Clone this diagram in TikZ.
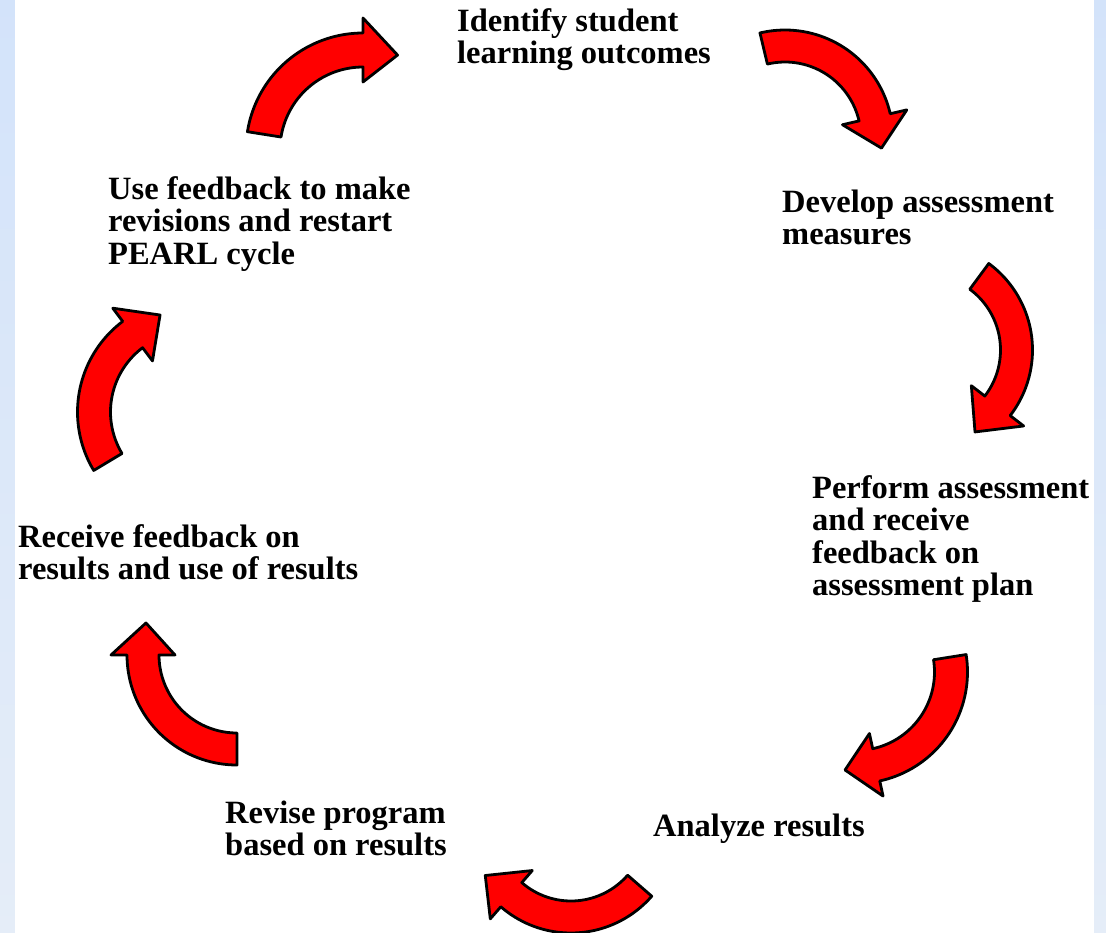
\documentclass[tikz,border=0pt]{standalone}
\usepackage{fontspec}
\setmainfont{Liberation Serif}
\begin{document}
\begin{tikzpicture}[x=1pt,y=-1pt,
  redarrow/.style={fill={rgb,255:red,255;green,0;blue,0},draw=black,line width=2.8pt,line join=round},
  label/.style={anchor=base west,inner sep=0pt,font=\fontsize{32.5}{32.5}\selectfont\bfseries,text=black}]
\useasboundingbox (0,0) rectangle (1106,932);
\clip (0,0) rectangle (1106,932);
\shade[top color={rgb,255:red,211;green,227;blue,250},bottom color={rgb,255:red,229;green,237;blue,248}] (-10,-10) rectangle (1116,942);
\fill[white] (15,-10) rectangle (1094,942);
\newcommand\cyclearrow[9]{%
  \filldraw[redarrow]
    plot[domain=#6:#7, samples=40] ({#1+(#3+#4)*cos(\x)}, {#2+(#3+#4)*sin(\x)})
    -- ({#1+(#3+#5)*cos(#7)}, {#2+(#3+#5)*sin(#7)})
    -- ({#1+#9*cos(#8)}, {#2+#9*sin(#8)})
    -- ({#1+(#3-#5)*cos(#7)}, {#2+(#3-#5)*sin(#7)})
    -- plot[domain=#7:#6, samples=40] ({#1+(#3-#4)*cos(\x)}, {#2+(#3-#4)*sin(\x)})
    -- cycle;}
% arrows
\cyclearrow{363}{150}{100}{17}{32}{189}{270}{290}{101}
\cyclearrow{785}{138}{92}{16}{33}{256.6}{347}{366}{97}
\cyclearrow{925}{350}{91.5}{16}{33}{-53.6}{37.6}{58.6}{96}
\cyclearrow{856}{672}{95}{16.5}{32}{-9}{77.7}{96.4}{98.6}
\cyclearrow{571}{826}{91}{16}{32}{41}{131}{150}{99}
\cyclearrow{237}{655}{94}{16}{32}{90}{180}{199.4}{96.5}
\cyclearrow{191}{412}{97}{16.5}{33}{149}{233}{252.3}{101.8}
% texts
\node[label] (identify) at (457,31) {\vtop{\hbox{Identify student}\hbox{learning outcomes}}};
\node[label] (develop) at (782,212) {\vtop{\hbox{Develop assessment}\hbox{measures}}};
\node[label] (perform) at (812,498) {\vtop{\hbox{Perform assessment}\hbox{and receive}\hbox{feedback on}\hbox{assessment plan}}};
\node[label] (analyze) at (653,836) {Analyze results};
\node[label] (revise) at (225,823) {\vtop{\hbox{Revise program}\hbox{based on results}}};
\node[label] (receive) at (18,547) {\vtop{\hbox{Receive feedback on}\hbox{results and use of results}}};
\node[label] (usefb) at (108,199) {\vtop{\hbox{Use feedback to make}\hbox{revisions and restart}\hbox{PEARL cycle}}};
\end{tikzpicture}
\end{document}
